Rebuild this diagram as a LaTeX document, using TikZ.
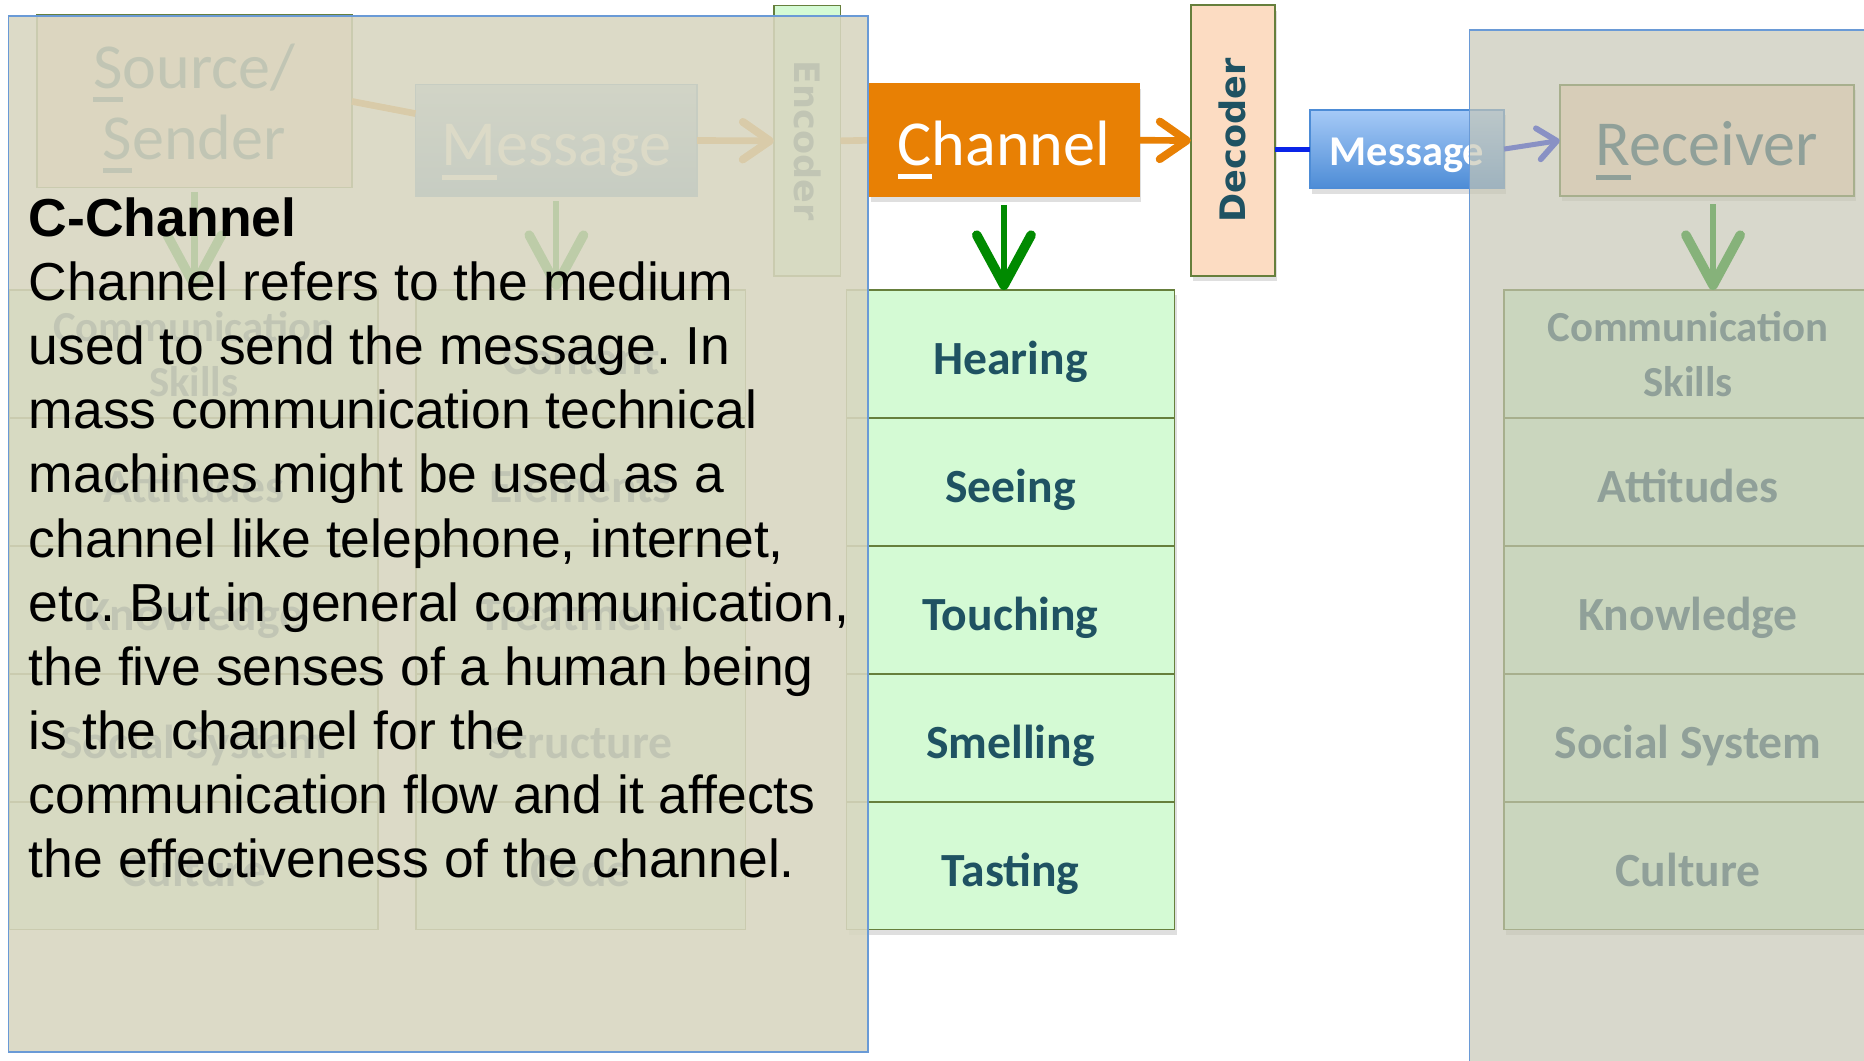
\documentclass[tikz,border=0pt]{standalone}
\usepackage{fontspec}
\setmainfont{Liberation Sans}
\newfontfamily\carlito{Carlito}
\newfontfamily\dejavu{DejaVu Sans}
\usetikzlibrary{arrows.meta,shadows}

\definecolor{chanorange}{HTML}{E88004}
\definecolor{cellgreen}{HTML}{D4FAD4}
\definecolor{celledge}{HTML}{667F3C}
\definecolor{tealtext}{HTML}{1F5262}
\definecolor{peach}{HTML}{FCDCC2}
\definecolor{msgtop}{HTML}{A6CAF7}
\definecolor{msgbot}{HTML}{4D8CD6}
\definecolor{wireblue}{HTML}{0A24E8}
\definecolor{arrowgreen}{HTML}{008A00}
\definecolor{veilL}{HTML}{D8D6C0}
\definecolor{veilR}{HTML}{C6C6B4}
\definecolor{veiledge}{HTML}{6A9AD6}

\newcommand\smcr[1]{\setbox0\hbox{#1}\rlap{\rule[-0.22em]{\wd0}{0.08em}}#1}

\tikzset{
  box/.style={rectangle, draw=celledge, line width=0.8pt, inner sep=0pt, outer sep=0pt},
  oneline/.style={text height=#1, text depth=0pt},
  twoline/.style={align=center, text depth=-3.4pt},
  soft/.style={drop shadow={shadow xshift=1pt, shadow yshift=-2.5pt, opacity=0.25}},
  cell/.style={box, oneline=19.8pt, fill=cellgreen, text=tealtext, minimum height=2.152cm, font=\carlito\bfseries\fontsize{22.8}{26.7}\selectfont},
  smallcell/.style={box, twoline, fill=cellgreen, text=tealtext, minimum height=2.152cm, font=\carlito\bfseries\fontsize{20.5}{26.7}\selectfont},
  big/.style={box, font=\carlito\fontsize{30.7}{34}\selectfont},
  sidebar/.style={box, minimum height=4.55cm, text=tealtext, font=\dejavu\bfseries\fontsize{16.8}{20}\selectfont},
  flow/.style={draw=chanorange, line width=3.2pt},
  flowtip/.style={flow, -{Straight Barb[length=13pt, width=18pt, line width=3.8pt, round]}},
  down/.style={draw=arrowgreen, line width=3pt, -{Straight Barb[length=24pt, width=26pt, line width=4.6pt, round]}},
  wire/.style={draw=wireblue, line width=2.4pt},
  wiretip/.style={wire, -{Straight Barb[length=9pt, width=15pt, line width=2.8pt, round]}},
  veil/.style={rectangle, draw=veiledge, line width=0.8pt, inner sep=0pt, outer sep=0pt}
}

\begin{document}
\frenchspacing
\begin{tikzpicture}[x=0.02cm,y=-0.02cm]
\clip (0,0) rectangle (1568,892.5);
\fill[white] (0,0) rectangle (1568,892.5);

\node[big, twoline, fill=peach, text=tealtext, minimum width=5.30cm, minimum height=2.90cm] (src) at (163.5,85.3) {\smcr{S}ource/\\\smcr{S}ender};
\node[big, oneline=24pt, top color=msgtop, bottom color=msgbot, draw=msgbot, text=white, minimum width=4.74cm, minimum height=1.89cm] (msgL) at (468,118.2) {\smcr{M}essage};
\node[sidebar, fill=cellgreen, minimum width=1.12cm] (enc) at (679,118.5) {\rotatebox{-90}{Encoder}};

\node[smallcell, minimum width=6.2cm] (sSkill) at (163,297.8) {Communication\\Skills};
\node[cell, minimum width=6.2cm] (sAtt) at (163,405.4) {Attitudes};
\node[cell, minimum width=6.2cm] (sKnow) at (163,513) {Knowledge};
\node[cell, minimum width=6.2cm] (sSoc) at (163,620.6) {Social System};
\node[cell, minimum width=6.2cm] (sCul) at (163,728.2) {Culture};

\node[cell, minimum width=5.54cm] (mCont) at (488.5,297.8) {Content};
\node[cell, minimum width=5.54cm] (mElem) at (488.5,405.4) {Elements};
\node[cell, minimum width=5.54cm] (mTreat) at (488.5,513) {Treatment};
\node[cell, minimum width=5.54cm] (mStruct) at (488.5,620.6) {Structure};
\node[cell, minimum width=5.54cm] (mCode) at (488.5,728.2) {Code};

\node[big, oneline=24pt, soft, fill=chanorange, draw=chanorange, text=white, minimum width=4.54cm, minimum height=1.89cm] (chan) at (844.5,118) {\smcr{C}hannel};

\node[cell, soft, minimum width=5.52cm] (cHear) at (850,297.8) {Hearing};
\node[cell, soft, minimum width=5.52cm] (cSee) at (850,405.4) {Seeing};
\node[cell, soft, minimum width=5.52cm] (cTouch) at (850,513) {Touching};
\node[cell, soft, minimum width=5.52cm] (cSmell) at (850,620.6) {Smelling};
\node[cell, soft, minimum width=5.52cm] (cTaste) at (850,728.2) {Tasting};

\node[sidebar, soft, fill=peach, minimum width=1.41cm] (dec) at (1037,118.2) {\rotatebox{90}{Decoder}};
\node[box, oneline=16pt, soft, top color=msgtop, bottom color=msgbot, draw=msgbot, text=white, minimum width=3.27cm, minimum height=1.32cm, font=\carlito\bfseries\fontsize{20.3}{24}\selectfont] (msgR) at (1183.5,125.4) {Message};
\node[big, oneline=24pt, soft, fill=peach, text=tealtext, minimum width=4.95cm, minimum height=1.87cm] (rcv) at (1435.8,118.2) {\smcr{R}eceiver};

\node[smallcell, soft, minimum width=6.2cm] (rSkill) at (1420,297.8) {Communication\\Skills};
\node[cell, soft, minimum width=6.2cm] (rAtt) at (1420,405.4) {Attitudes};
\node[cell, soft, minimum width=6.2cm] (rKnow) at (1420,513) {Knowledge};
\node[cell, soft, minimum width=6.2cm] (rSoc) at (1420,620.6) {Social System};
\node[cell, soft, minimum width=6.2cm] (rCul) at (1420,728.2) {Culture};

\draw[flow] (src.east) -- (msgL);
\draw[flowtip] (msgL.east) -- (enc.west);
\draw[flow] (enc.east) -- (chan.west);
\draw[flowtip] (chan.east) -- (dec.west);
\draw[down, shorten <=2pt] (src.south) -- (sSkill.north -| src.south);
\draw[down, shorten <=2pt] (msgL.south) -- (mCont.north -| msgL.south);
\draw[down, shorten <=4pt] (chan.south) -- (cHear.north -| chan.south);
\draw[down, shorten <=4pt] (rcv.south -| 1441,0) -- (rSkill.north -| 1441,0);
\draw[wire] (msgR.west -| dec.east) -- (msgR.west);
\draw[wiretip] (msgR.east) -- (rcv.west);

\node[veil, fill=veilL, fill opacity=0.88, minimum width=14.46cm, minimum height=17.43cm] (noteL) at (368.5,449.3) {};
\node[veil, fill=veilR, fill opacity=0.68, minimum width=7.4cm, minimum height=18.2cm] (noteR) at (1421,480) {};

\node[anchor=north west, align=left, inner sep=0pt, font=\fontsize{25.6}{30.7}\selectfont] (noteTxt) at (24,166) {\textbf{C-Channel}\\
Channel refers to the medium\\
used to send the message. In\\
mass communication technical\\
machines might be used as a\\
channel like telephone, internet,\\
etc. But in general communication,\\
the five senses of a human being\\
is the channel for the\\
communication flow and it affects\\
the effectiveness of the channel.};
\end{tikzpicture}
\end{document}
